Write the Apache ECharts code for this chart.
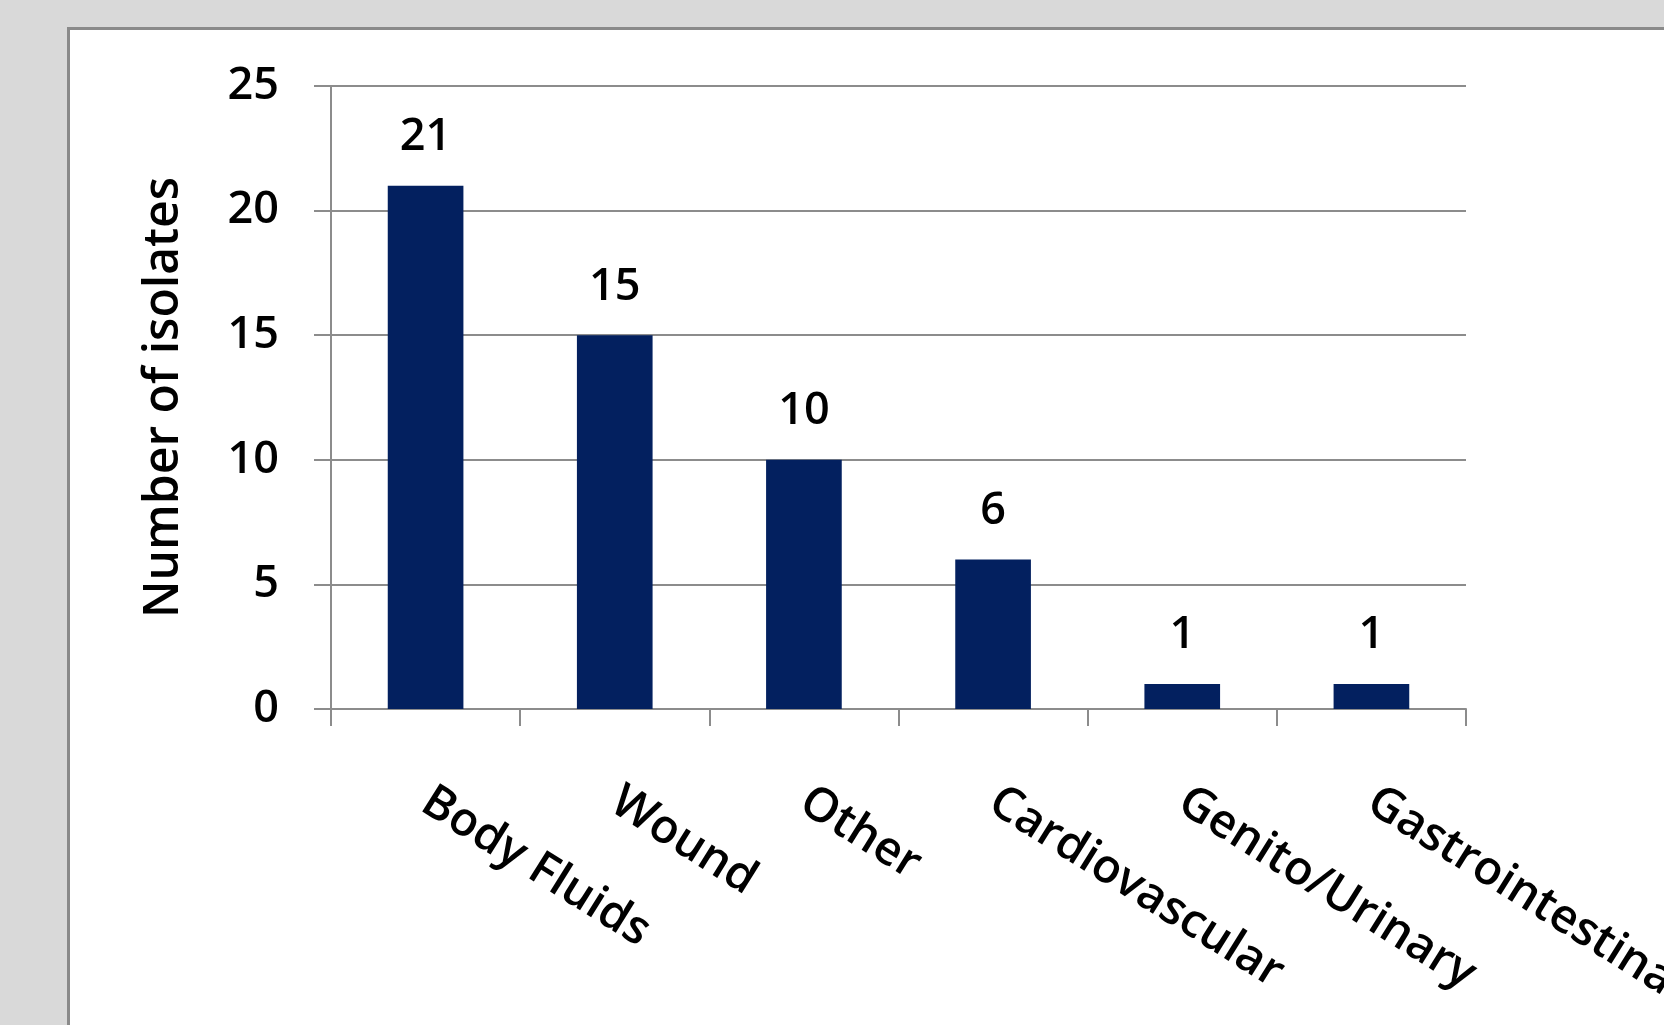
<!DOCTYPE html>
<html>
<head>
<meta charset="utf-8">
<script src="https://cdn.jsdelivr.net/npm/echarts@6/dist/echarts.min.js"></script>
<style>
html,body{margin:0;padding:0;background:#d9d9d9;}
#c{width:1664px;height:1025px;}
</style>
</head>
<body>
<div id="c"></div>
<script>
var categories = ['Body Fluids', 'Wound', 'Other', 'Cardiovascular', 'Genito/Urinary', 'Gastrointestinal'];
var isolates = [21, 15, 10, 6, 1, 1];
var yAxisTitle = 'Number of isolates';
var yTicks = {min: 0, max: 25, interval: 5};

var FONT = 'Open Sans';
var chart = echarts.init(document.getElementById('c'), null, {renderer: 'canvas'});
chart.setOption({
  backgroundColor: '#d9d9d9',
  animation: false,
  graphic: [{
    type: 'rect', left: 67, top: 27, z: -10,
    shape: {width: 1700, height: 1100},
    style: {fill: '#ffffff', stroke: '#8a8a8a', lineWidth: 3}
  }],
  grid: {left: 331, top: 86, right: 198, bottom: 316, containLabel: false, outerBoundsMode: 'none'},
  xAxis: {
    type: 'category',
    data: categories,
    boundaryGap: true,
    axisLine: {show: true, lineStyle: {color: '#8c8c8c', width: 2}},
    axisTick: {show: true, length: 17, lineStyle: {color: '#8c8c8c', width: 2}},
    axisLabel: {
      rotate: -32, margin: 89, interval: 0,
      fontFamily: FONT, fontSize: 47, color: '#000', fontWeight: 600
    }
  },
  yAxis: {
    type: 'value',
    min: yTicks.min, max: yTicks.max, interval: yTicks.interval,
    name: yAxisTitle,
    nameLocation: 'middle',
    nameGap: 143,
    nameTextStyle: {fontFamily: FONT, fontSize: 48, color: '#000', fontWeight: 600},
    axisLine: {show: true, lineStyle: {color: '#8c8c8c', width: 2}},
    axisTick: {show: true, length: 17, lineStyle: {color: '#8c8c8c', width: 2}},
    axisLabel: {margin: 52, fontFamily: FONT, fontSize: 45, color: '#000', fontWeight: 600},
    splitLine: {show: true, lineStyle: {color: '#8c8c8c', width: 2}}
  },
  series: [{
    type: 'bar',
    data: isolates,
    barWidth: '40%',
    itemStyle: {color: '#03205f'},
    label: {
      show: true, position: 'top', distance: 26,
      fontFamily: FONT, fontSize: 45, color: '#000', fontWeight: 600
    }
  }]
});
</script>
</body>
</html>
